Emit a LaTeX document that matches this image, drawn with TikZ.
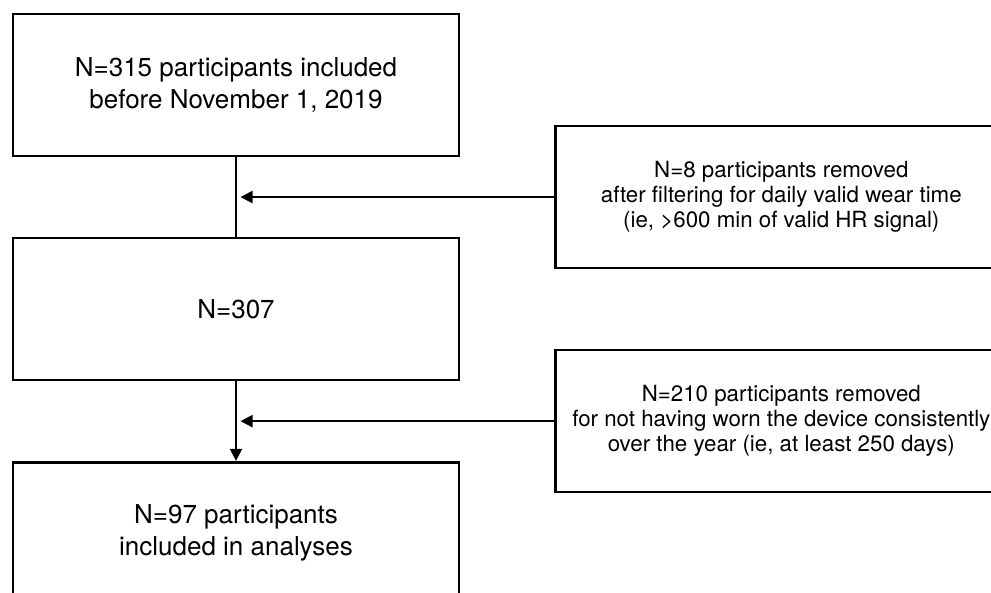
\documentclass[tikz,border=0pt]{standalone}
\usepackage{fontspec}
\setmainfont{TeX Gyre Heros}
\usetikzlibrary{positioning, arrows.meta}

\begin{document}
\begin{tikzpicture}[
			x = 1pt, y = 1pt,
			node distance = 79.5pt,
			stage/.style = {rectangle, draw, line width = 2.6pt, minimum width = 446pt, minimum height = 142pt, align = center, font = \fontsize{26}{32}\selectfont},
			removed/.style = {rectangle, draw, line width = 2.6pt, minimum width = 452pt, minimum height = 142pt, align = center, font = \fontsize{22.3}{25}\selectfont},
			link/.style = {line width = 2.2pt},
			flow/.style = {line width = 2.2pt, -{Triangle[length = 12pt, width = 12pt]}}
		]
		\clip (0,0) rectangle (991,-592);
		\node[stage] (included) at (236,-85) {N=315 participants included\\before November 1, 2019};
		\node[stage, below = of included] (remaining) {N=307};
		\node[stage, below = of remaining] (analysed) {N=97 participants\\included in analyses};
		\path (included.south) -- (remaining.north) coordinate[midway] (gapA);
		\path (remaining.south) -- (analysed.north) coordinate[midway] (gapB);
		\node[removed, right = 318pt of gapA] (wear) {N=8 participants removed\\after filtering for daily valid wear time\\(ie, >600 min of valid HR signal)};
		\node[removed, right = 318pt of gapB] (year) {N=210 participants removed\\for not having worn the device consistently\\over the year (ie, at least 250 days)};
		\draw[link] (included) -- (remaining);
		\draw[flow] (remaining) -- (analysed);
		\draw[flow] (wear.west) -- ([xshift = 4.5pt]gapA);
		\draw[flow] (year.west) -- ([xshift = 4.5pt]gapB);
	\end{tikzpicture}
\end{document}
